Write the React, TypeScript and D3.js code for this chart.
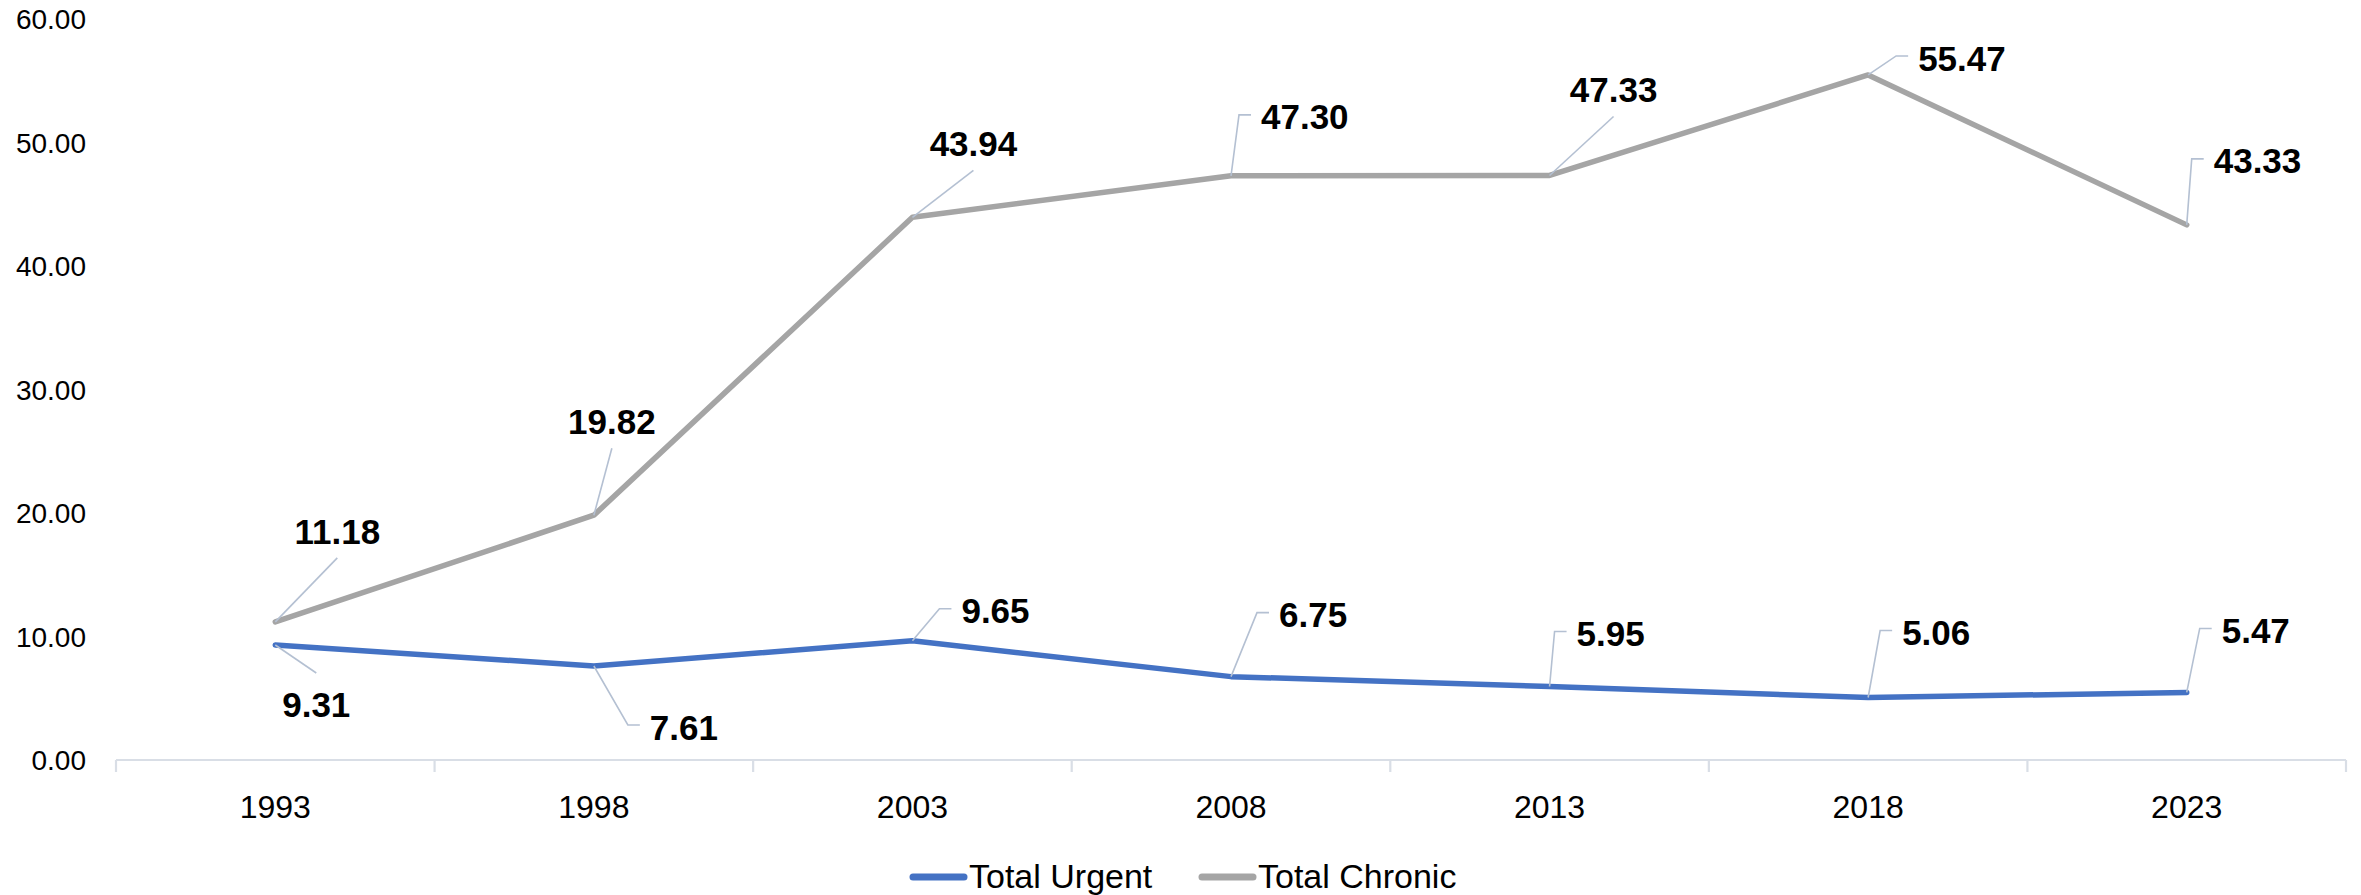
import React from "react";
import * as d3 from "d3";

const years = ["1993", "1998", "2003", "2008", "2013", "2018", "2023"];
const totalUrgent = [9.31, 7.61, 9.65, 6.75, 5.95, 5.06, 5.47];
const totalChronic = [11.18, 19.82, 43.94, 47.3, 47.33, 55.47, 43.33];
const yTicks = [0, 10, 20, 30, 40, 50, 60];
const seriesNames = ["Total Urgent", "Total Chronic"];

// where each data label sits relative to its point (layout only)
const urgentLabelLayout = [
  { kind: "center", dx: 41, dy: 59 },
  { kind: "elbow", dx: 56, dy: 61 },
  { kind: "elbow", dx: 49, dy: -30 },
  { kind: "elbow", dx: 48, dy: -62 },
  { kind: "elbow", dx: 27, dy: -53 },
  { kind: "elbow", dx: 34, dy: -65 },
  { kind: "elbow", dx: 35, dy: -62 },
];
const chronicLabelLayout = [
  { kind: "center", dx: 62, dy: -91 },
  { kind: "center", dx: 18, dy: -94 },
  { kind: "center", dx: 61, dy: -74 },
  { kind: "elbow", dx: 30, dy: -59 },
  { kind: "center", dx: 64, dy: -86 },
  { kind: "elbow", dx: 50, dy: -17 },
  { kind: "elbow", dx: 27, dy: -64 },
];

const W = 2361;
const H = 895;
const FONT = "'Liberation Sans', Arial, sans-serif";
const BLUE = "#4472C4";
const GRAY = "#A5A5A5";
const AXIS = "#D9DEE6";
const LEADER = "#B4C0D2";

export default function App() {
  const x = d3.scaleBand<string>().domain(years).range([116, 2346]).padding(0);
  const y = d3.scaleLinear().domain([0, 60]).range([760, 19]);
  const cx = (yr: string) => (x(yr) as number) + x.bandwidth() / 2;

  const line = d3
    .line<number>()
    .x((_, i) => cx(years[i]))
    .y((d) => y(d));

  const series = [
    { name: seriesNames[0], values: totalUrgent, color: BLUE, layout: urgentLabelLayout },
    { name: seriesNames[1], values: totalChronic, color: GRAY, layout: chronicLabelLayout },
  ];

  const boundaries = years.map((yr) => x(yr) as number).concat([x.range()[1]]);

  const labelFs = 35;

  return (
    <svg
      width={W}
      height={H}
      style={{ position: "absolute", left: 0, top: 0, background: "#fff" }}
      fontFamily={FONT}
    >
      <rect width={W} height={H} fill="#fff" />

      {/* y axis labels */}
      {yTicks.map((t) => (
        <text key={t} x={86} y={y(t) + 10} textAnchor="end" fontSize={28} fill="#000">
          {t.toFixed(2)}
        </text>
      ))}

      {/* x axis */}
      <line x1={x.range()[0]} x2={x.range()[1]} y1={y(0)} y2={y(0)} stroke={AXIS} strokeWidth={2.2} />
      {boundaries.map((b, i) => (
        <line key={i} x1={b} x2={b} y1={y(0)} y2={y(0) + 12} stroke={AXIS} strokeWidth={2.2} />
      ))}
      {years.map((yr) => (
        <text key={yr} x={cx(yr)} y={818} textAnchor="middle" fontSize={32} fill="#000">
          {yr}
        </text>
      ))}

      {/* lines */}
      {series.map((s) => (
        <path
          key={s.name}
          d={line(s.values) || ""}
          fill="none"
          stroke={s.color}
          strokeWidth={5.5}
          strokeLinejoin="round"
          strokeLinecap="round"
        />
      ))}

      {/* data labels with leader lines */}
      {series.map((s) =>
        s.values.map((v, i) => {
          const px = cx(years[i]);
          const py = y(v);
          const L = s.layout[i];
          const tx = px + L.dx;
          const ty = py + L.dy;
          let leader = "";
          if (L.kind === "center") {
            const ey = ty + (L.dy < 0 ? 27 : -31);
            leader = `M${px},${py}L${tx},${ey}`;
          } else {
            leader = `M${px},${py}L${tx - 22},${ty - 2}L${tx - 10},${ty - 2}`;
          }
          return (
            <g key={s.name + i}>
              <path d={leader} fill="none" stroke={LEADER} strokeWidth={1.6} />
              <text
                x={tx}
                y={ty + 0.36 * labelFs}
                textAnchor={L.kind === "center" ? "middle" : "start"}
                fontSize={labelFs}
                fontWeight="bold"
                fill="#000"
              >
                {v.toFixed(2)}
              </text>
            </g>
          );
        })
      )}

      {/* legend */}
      {series.map((s, i) => {
        const lx = i === 0 ? 913 : 1202;
        return (
          <g key={"lg" + s.name}>
            <line x1={lx} x2={lx + 51} y1={877} y2={877} stroke={s.color} strokeWidth={7} strokeLinecap="round" />
            <text x={lx + 56} y={888} fontSize={34} fill="#000">
              {s.name}
            </text>
          </g>
        );
      })}
    </svg>
  );
}
